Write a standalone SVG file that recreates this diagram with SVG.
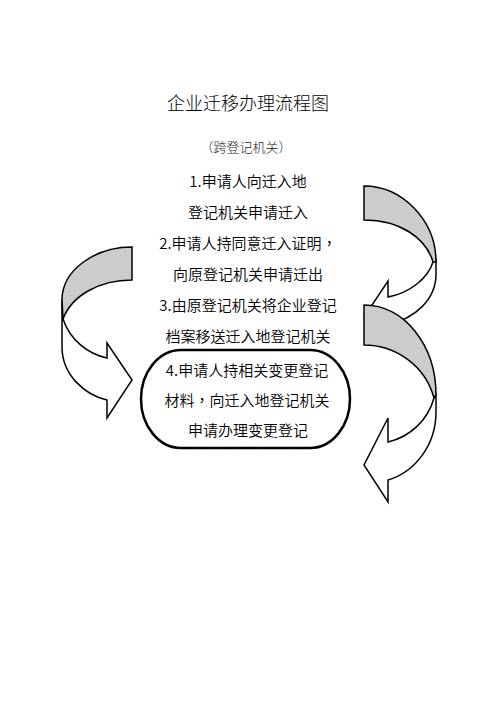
<svg xmlns="http://www.w3.org/2000/svg" width="496" height="702" viewBox="0 0 496 702">
<style>
  .bg{fill:#ffffff}
  .band{fill:#cccccc;stroke:#000;stroke-width:1.5;stroke-linejoin:miter}
  .front{fill:#ffffff;stroke:#000;stroke-width:1.5;stroke-linejoin:miter}
  .t{font-family:"Noto Sans CJK SC","Noto Sans",sans-serif;font-size:15px;font-weight:350;fill:#000;text-anchor:middle}
  .title{font-family:"Noto Sans CJK SC","Noto Sans",sans-serif;font-size:18px;font-weight:300;fill:#000;text-anchor:middle}
  .sub{font-family:"Noto Sans CJK SC","Noto Sans",sans-serif;font-size:13px;font-weight:300;fill:#222;text-anchor:middle}
  .pc{font-family:"Noto Sans CJK TC","Noto Sans CJK SC",sans-serif}
  .box{fill:#ffffff;stroke:#000;stroke-width:2.5}
</style>
<rect class="bg" x="0" y="0" width="496" height="702"/>
<g id="header">
  <text class="title" x="248" y="110">企业迁移办理流程图</text>
  <text class="sub" x="246" y="152">（跨登记机关）</text>
</g>
<g id="connectors">
  <g id="arrow1">
    <path class="front" d="M433,262 C428,278 410,293 388,297 L388,281 L364,317 L388,338 L388,325 C415,318 436,300 436,274 L436,260 Z"/>
    <path class="band" d="M364,186 C402,186 436,220 436,262 L433,262 C426,238 400,220 364,220 Z"/>
  </g>
  <g id="arrow2">
    <path class="front" d="M434,398 C428,420 410,437 388,442 L388,418 L364,465 L388,502 L388,480 C415,472 436,445 436,412 L436,395 Z"/>
    <path class="band" d="M364,305 C404,305 436,345 436,395 L434,398 C425,365 395,345 364,345 Z"/>
  </g>
  <g id="arrow3">
    <path class="front" d="M63,319 C70,340 88,354 107,358 L107,343 L132,380 L107,418 L107,400 C85,395 62,375 62,347 L62,300 Z"/>
    <path class="band" d="M132,247 C95,247 62,270 62,300 L63,319 C72,295 100,280 132,280 Z"/>
  </g>
</g>
<g id="step1">
  <text class="t" x="248" y="187">1.申请人向迁入地</text>
  <text class="t" x="248" y="218">登记机关申请迁入</text>
</g>
<g id="step2">
  <text class="t" x="248" y="249">2.申请人持同意迁入证明<tspan class="pc">，</tspan></text>
  <text class="t" x="248" y="280">向原登记机关申请迁出</text>
</g>
<g id="step3">
  <text class="t" x="248" y="311">3.由原登记机关将企业登记</text>
  <text class="t" x="248" y="342">档案移送迁入地登记机关</text>
</g>
<g id="step4">
  <rect class="box" x="141" y="350" width="209" height="98" rx="40" ry="49"/>
  <text class="t" x="247" y="376">4.申请人持相关变更登记</text>
  <text class="t" x="247" y="406">材料<tspan class="pc">，</tspan>向迁入地登记机关</text>
  <text class="t" x="248" y="436">申请办理变更登记</text>
</g>
</svg>
